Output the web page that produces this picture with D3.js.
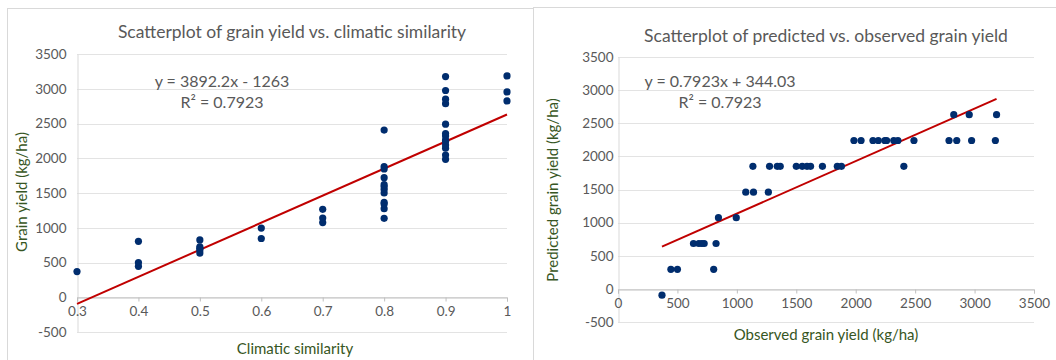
<!DOCTYPE html>
<html lang="en">
<head>
<meta charset="utf-8">
<title>Grain yield scatterplots</title>
<script src="https://d3js.org/d3.v7.min.js"></script>
<style>
  body { margin: 0; background: #fff; }
  svg { display: block; font-family: Lato, "Open Sans", sans-serif; }
  .tick text { fill: #595959; font-size: 13.5px; font-family: Lato, sans-serif; }
  .title { fill: #595959; font-size: 17.5px; }
  .eq { fill: #595959; font-size: 16px; }
  .axtitle { fill: #375623; font-size: 15px; }
</style>
</head>
<body>
<svg width="1056" height="360"></svg>
<script>
// climatic similarity level of each site
const similarity = [0.3, 0.4, 0.4, 0.4, 0.5, 0.5, 0.5, 0.5, 0.5, 0.6, 0.6, 0.7, 0.7, 0.7,
  0.8, 0.8, 0.8, 0.8, 0.8, 0.8, 0.8, 0.8, 0.8, 0.8, 0.8, 0.8,
  0.9, 0.9, 0.9, 0.9, 0.9, 0.9, 0.9, 0.9, 0.9, 0.9, 0.9, 0.9, 0.9,
  1, 1, 1];
// observed grain yield (kg/ha)
const observed = [370, 445, 500, 805, 635, 680, 705, 725, 825, 845, 995, 1075, 1140, 1265,
  1135, 1275, 1340, 1365, 1500, 1550, 1590, 1620, 1720, 1845, 1880, 2405,
  1985, 2045, 2145, 2190, 2245, 2260, 2320, 2355, 2490, 2785, 2850, 2975, 3175,
  2825, 2955, 3185];
// predicted grain yield per similarity level (kg/ha)
const levels = [0.3, 0.4, 0.5, 0.6, 0.7, 0.8, 0.9, 1];
const predictedByLevel = [-95, 295, 685, 1075, 1460, 1850, 2240, 2630];

// trendlines (slope, intercept) as printed on the chart
const trendLeft = [3892.2, -1263];
const trendRight = [0.7923, 344.03];

const xTicksLeft = [0.3, 0.4, 0.5, 0.6, 0.7, 0.8, 0.9, 1];
const xTicksRight = [0, 500, 1000, 1500, 2000, 2500, 3000, 3500];
const yTicks = [-500, 0, 500, 1000, 1500, 2000, 2500, 3000, 3500];

const svg = d3.select("svg");

// panel frames
svg.append("rect").attr("x", 7.5).attr("y", 8.5).attr("width", 526).attr("height", 370)
  .attr("fill", "none").attr("stroke", "#d9d9d9");
svg.append("rect").attr("x", 533.5).attr("y", 7.5).attr("width", 540).attr("height", 370)
  .attr("fill", "none").attr("stroke", "#d9d9d9");

function panel(o) {
  const g = svg.append("g");
  const x = d3.scaleLinear().domain(o.xDomain).range(o.xRange);
  const y = d3.scaleLinear().domain([-500, 3500]).range(o.yRange);

  // gridlines
  g.append("g").selectAll("line").data(yTicks).join("line")
    .attr("x1", o.xRange[0]).attr("x2", o.xRange[1])
    .attr("y1", d => Math.round(y(d)) + 0.5).attr("y2", d => Math.round(y(d)) + 0.5)
    .attr("stroke", "#e3e3e3").attr("stroke-width", 1);

  // y axis
  const ya = g.append("g").attr("transform", `translate(${Math.round(o.xRange[0]) + 0.5},0)`)
    .call(d3.axisLeft(y).tickValues(yTicks).tickSize(0).tickPadding(o.yPad).tickFormat(d => String(d)));
  ya.select(".domain").attr("stroke", "#d9d9d9");

  // x axis crosses at y = 0
  const xa = g.append("g").attr("transform", `translate(0,${Math.round(y(0)) + 0.5})`)
    .call(d3.axisBottom(x).tickValues(o.xTicks).tickSize(4).tickPadding(5).tickFormat(o.fmt));
  xa.select(".domain").attr("stroke", "#bfbfbf");
  xa.selectAll(".tick line").attr("stroke", "#bfbfbf");

  // trendline
  const [m, b] = o.trend;
  g.append("line")
    .attr("x1", x(o.tx[0])).attr("y1", y(m * o.tx[0] + b))
    .attr("x2", x(o.tx[1])).attr("y2", y(m * o.tx[1] + b))
    .attr("stroke", "#c00000").attr("stroke-width", 2);

  // points
  g.append("g").selectAll("circle").data(o.pts).join("circle")
    .attr("cx", d => x(d[0])).attr("cy", d => y(d[1])).attr("r", 3.6)
    .attr("fill", "#002d6e");

  // texts
  g.append("text").attr("class", "title").attr("x", o.titlePos[0]).attr("y", o.titlePos[1])
    .attr("text-anchor", "middle").text(o.title);
  g.append("text").attr("class", "eq").attr("x", o.eqPos[0]).attr("y", o.eqPos[1])
    .attr("text-anchor", "middle").text(o.eq);
  g.append("text").attr("class", "eq").attr("x", o.eqPos[0]).attr("y", o.eqPos[1] + 21)
    .attr("text-anchor", "middle").text("R² = 0.7923");
  g.append("text").attr("class", "axtitle").attr("x", o.xtPos[0]).attr("y", o.xtPos[1])
    .attr("text-anchor", "middle").text(o.xTitle);
  g.append("text").attr("class", "axtitle")
    .attr("transform", `translate(${o.ytPos[0]},${o.ytPos[1]}) rotate(-90)`)
    .attr("text-anchor", "middle").text(o.yTitle);
}

const predicted = similarity.map(s => predictedByLevel[levels.indexOf(s)]);

panel({
  xDomain: [0.3, 1], xRange: [77, 507], yRange: [332, 54], yPad: 11,
  xTicks: xTicksLeft, fmt: d => String(+d.toFixed(1)),
  trend: trendLeft, tx: d3.extent(similarity),
  pts: similarity.map((s, i) => [s, observed[i]]),
  title: "Scatterplot of grain yield vs. climatic similarity", titlePos: [292, 38],
  eq: "y = 3892.2x - 1263", eqPos: [222, 87],
  xTitle: "Climatic similarity", xtPos: [295, 354],
  yTitle: "Grain yield (kg/ha)", ytPos: [27, 192]
});

panel({
  xDomain: [0, 3500], xRange: [618, 1034], yRange: [322, 57], yPad: 5,
  xTicks: xTicksRight, fmt: d => String(d),
  trend: trendRight, tx: d3.extent(observed),
  pts: observed.map((v, i) => [v, predicted[i]]),
  title: "Scatterplot of predicted vs. observed grain yield", titlePos: [826, 42],
  eq: "y = 0.7923x + 344.03", eqPos: [720, 87],
  xTitle: "Observed grain yield (kg/ha)", xtPos: [826, 340],
  yTitle: "Predicted grain yield (kg/ha)", ytPos: [558, 190]
});
</script>
</body>
</html>
